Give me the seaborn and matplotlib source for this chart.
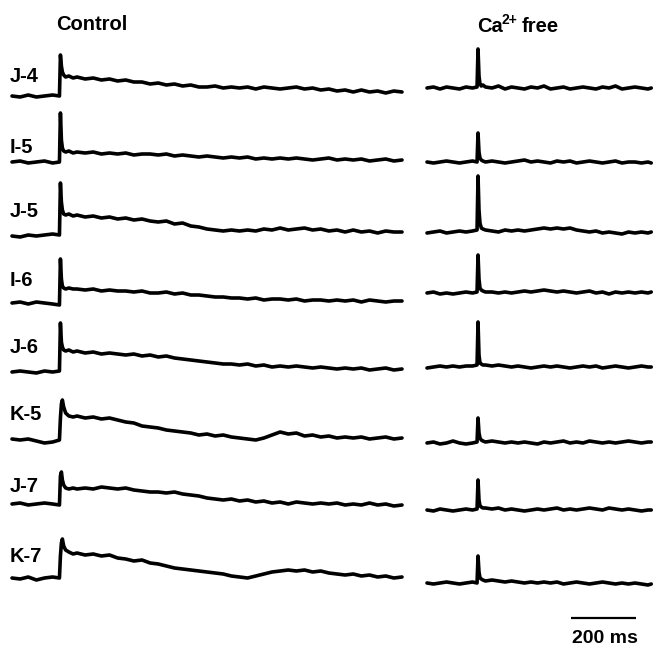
import numpy as np
import pandas as pd
import matplotlib
matplotlib.use('Agg')
import matplotlib.pyplot as plt
import seaborn as sns

# cell names, top to bottom
cells = ['J-4', 'I-5', 'J-5', 'I-6', 'J-6', 'K-5', 'J-7', 'K-7']

# sample times (ms) of the control sweeps, stimulus at ~148 ms
ctrl_t = [0, 25, 50, 75, 100, 125, 146, 149, 152, 155, 159, 165, 175, 188,
          200, 225, 250, 275, 300, 325, 350, 375, 400, 425,
          450, 475, 500, 525, 550, 575, 600, 625, 650, 675,
          700, 725, 750, 775, 800, 825, 850, 875, 900, 925,
          950, 975, 1000, 1025, 1050, 1075, 1100, 1125, 1150, 1175, 1200]

# control responses (a.u.)
ctrl_j4 = [0, -1, 1, -1, 0, 1, 0, 41, 30, 24, 21, 19, 20, 18,
           19, 17, 18, 16, 17, 15, 16, 14, 14, 12,
           13, 11, 12, 10, 11, 9, 9, 10, 8, 9,
           8, 9, 7, 9, 8, 7, 8, 9, 7, 8,
           6, 7, 5, 6, 4, 6, 4, 5, 3, 5, 4]
ctrl_i5 = [0, 1, -1, 0, 1, -1, 0, 49, 22, 14, 11, 10, 11, 9,
           10, 9, 10, 8, 9, 8, 9, 7, 8, 8,
           7, 8, 6, 7, 6, 5, 6, 5, 4, 5,
           4, 5, 3, 4, 3, 4, 3, 4, 3, 2,
           3, 4, 2, 3, 2, 3, 1, 2, 3, 1, 2]
ctrl_j5 = [0, -1, 1, 0, 1, 2, 1, 53, 34, 26, 22, 21, 22, 20,
           21, 19, 20, 18, 19, 17, 18, 16, 17, 15,
           14, 15, 12, 13, 10, 9, 7, 6, 5, 6,
           5, 6, 5, 7, 6, 8, 6, 7, 8, 6,
           7, 5, 6, 4, 6, 4, 5, 3, 5, 4, 4]
ctrl_i6 = [0, 1, -1, 1, 0, -1, -2, 44, 24, 17, 15, 14, 15, 14,
           14, 13, 14, 12, 13, 12, 12, 11, 12, 10,
           10, 11, 9, 10, 8, 8, 7, 6, 6, 5,
           5, 4, 5, 3, 4, 4, 3, 4, 2, 3,
           3, 2, 3, 2, 3, 1, 3, 2, 1, 2, 2]
ctrl_j6 = [0, 1, 0, -1, 1, 0, 1, 49, 30, 25, 22, 21, 22, 20,
           21, 19, 20, 18, 19, 18, 17, 18, 16, 17,
           15, 16, 14, 13, 12, 11, 10, 9, 8, 8,
           7, 8, 6, 7, 5, 6, 5, 6, 5, 4,
           5, 4, 3, 4, 3, 4, 2, 3, 4, 2, 3]
ctrl_k5 = [1, 0, 1, -1, -3, -2, 0, 22, 36, 40, 33, 27, 24, 23,
           24, 22, 23, 21, 22, 20, 18, 17, 14, 13,
           12, 10, 9, 8, 7, 5, 6, 4, 5, 3,
           2, 1, 0, 2, 5, 8, 6, 7, 4, 5,
           3, 4, 2, 3, 2, 3, 1, 2, 3, 1, 2]
ctrl_j7 = [0, 1, -1, 0, 1, 0, -1, 28, 32, 24, 19, 16, 15, 16,
           15, 16, 15, 17, 16, 15, 16, 14, 13, 12,
           12, 11, 12, 10, 9, 8, 6, 5, 4, 5,
           3, 4, 2, 3, 1, 2, 0, 2, 1, 0,
           1, 0, 1, -1, 0, -1, 1, -1, 0, -2, -1]
ctrl_k7 = [0, -1, 1, -2, 0, 1, 0, 22, 35, 39, 32, 28, 26, 24,
           25, 23, 24, 22, 23, 20, 19, 17, 18, 15,
           14, 12, 10, 9, 8, 7, 6, 5, 4, 2,
           1, 0, 2, 4, 6, 7, 8, 7, 8, 6,
           7, 5, 4, 3, 4, 2, 3, 1, 2, 0, 1]

# sample times (ms) of the Ca2+ free sweeps
ca_t = [0, 20, 40, 60, 80, 100, 120, 140, 154, 157, 160, 163, 167, 172, 180,
        200, 220, 240, 260, 280, 300, 320, 340, 360, 380,
        400, 420, 440, 460, 480, 500, 520, 540, 560, 580,
        600, 620, 640, 660, 680, 690]

ca_j4 = [0, 1, -1, 1, 0, -1, 1, 0, 1, 39, 12, 4, 2, 3, 1,
         0, 2, -1, 1, 0, -1, 1, 0, 2, -1,
         0, 1, -1, 0, 1, 0, -1, 1, 0, 2,
         -1, 0, 1, 0, -1, 0]
ca_i5 = [0, -1, 0, 1, 0, -1, 0, 1, 0, 29, 10, 4, 2, 1, 0,
         1, 0, -1, 0, 1, 2, 0, 1, 0, -1,
         1, 0, 1, -1, 0, 1, 0, -1, 0, 1,
         -1, 0, 0, -1, 0, -1]
ca_j5 = [-1, 0, 1, -1, 0, 1, 0, 1, 2, 56, 22, 9, 4, 3, 2,
         1, 0, 2, 1, 2, 1, 2, 3, 4, 3,
         4, 3, 4, 2, 1, 0, 1, -1, 0, -1,
         -2, 0, -1, 0, -1, 0]
ca_i6 = [0, 1, -1, 0, -1, 0, 1, 0, 1, 38, 14, 5, 3, 2, 1,
         1, 0, 1, 0, 1, 2, 1, 2, 3, 2,
         1, 2, 1, 0, 1, 2, 0, 1, -1, 1,
         0, 1, 0, 1, 0, 1]
ca_j6 = [-1, 0, 1, 0, 1, 0, 1, 1, 2, 45, 12, 4, 3, 2, 2,
         1, 2, 1, 0, 1, 0, -1, 0, 1, 0,
         1, 0, -1, 0, 1, 0, 1, -1, 0, 1,
         0, -1, 0, 1, 0, 0]
ca_k5 = [0, 1, -1, 0, 2, 0, -1, 0, 1, 25, 10, 5, 3, 2, 1,
         2, 1, 0, 1, 0, 1, 0, -1, 1, 0,
         1, 2, 0, 1, 0, 2, 1, 0, 1, 0,
         1, 2, 1, 0, 1, 1]
ca_j7 = [0, -1, 1, 0, -1, 0, 1, 0, 1, 30, 10, 4, 3, 2, 2,
         1, 2, 0, 1, 0, -1, 0, 1, 0, 1,
         2, 0, 1, 0, 1, 2, 1, 0, 2, 1,
         0, 1, 0, -1, 0, 0]
ca_k7 = [0, -1, 0, 1, 0, -1, 0, 1, 0, 27, 11, 5, 4, 3, 2,
         3, 2, 1, 2, 1, 0, 1, 0, 1, 0,
         1, -1, 0, 1, 0, -1, 0, 1, 0, -1,
         0, -1, 0, -1, -2, -1]

ctrl_traces = [ctrl_j4, ctrl_i5, ctrl_j5, ctrl_i6, ctrl_j6, ctrl_k5, ctrl_j7, ctrl_k7]
ca_traces = [ca_j4, ca_i5, ca_j5, ca_i6, ca_j6, ca_k5, ca_j7, ca_k7]

scale_ms = 200

# layout (pixels of the 655x646 canvas)
PX_PER_MS = 0.325
ctrl_x0 = 12 / PX_PER_MS
ca_x0 = 427 / PX_PER_MS
ctrl_base = [96, 162, 236, 303, 372, 440, 504, 578]
ca_base = [88, 162, 232, 293, 367, 443, 510, 583]
label_y = [82, 153, 217, 286, 353, 420, 492, 562]

sns.set_style('white')
plt.rcParams['font.family'] = ['Liberation Sans', 'DejaVu Sans']
plt.rcParams['text.color'] = 'black'

fig = plt.figure(figsize=(6.55, 6.46), dpi=100)
ax = fig.add_axes([0, 0, 1, 1])

LW = 2.6
for i, cell in enumerate(cells):
    df_c = pd.DataFrame({'t': np.array(ctrl_t) + ctrl_x0,
                         'v': np.array(ctrl_traces[i]) - ctrl_base[i]})
    sns.lineplot(data=df_c, x='t', y='v', ax=ax, color='black',
                 linewidth=LW, estimator=None, sort=False)
    df_ca = pd.DataFrame({'t': np.array(ca_t) + ca_x0,
                          'v': np.array(ca_traces[i]) - ca_base[i]})
    sns.lineplot(data=df_ca, x='t', y='v', ax=ax, color='black',
                 linewidth=LW, estimator=None, sort=False)
    ax.text(10 / PX_PER_MS, -label_y[i], cell, ha='left', va='baseline',
            fontsize=14.5, fontweight='bold', color='black')

# scale bar
bar_x = 571 / PX_PER_MS
ax.plot([bar_x, bar_x + scale_ms], [-618, -618], color='black', lw=1.6,
        solid_capstyle='butt')
ax.text(bar_x + scale_ms / 2 + 3, -643, f'{scale_ms} ms', ha='center',
        va='baseline', fontsize=14, fontweight='bold', color='black')

# column headers
ax.text(92 / PX_PER_MS, -30, 'Control', ha='center', va='baseline',
        fontsize=14.5, fontweight='bold', color='black')
ax.text(477 / PX_PER_MS, -32, 'Ca', ha='left', va='baseline',
        fontsize=14.5, fontweight='bold', color='black')
ax.text(502 / PX_PER_MS, -24, '2+', ha='left', va='baseline',
        fontsize=10, fontweight='bold', color='black')
ax.text(522 / PX_PER_MS, -32, 'free', ha='left', va='baseline',
        fontsize=14.5, fontweight='bold', color='black')

ax.set_xlim(0, 655 / PX_PER_MS)
ax.set_ylim(-646, 0)
ax.axis('off')

fig.savefig('out.png', dpi=100)
